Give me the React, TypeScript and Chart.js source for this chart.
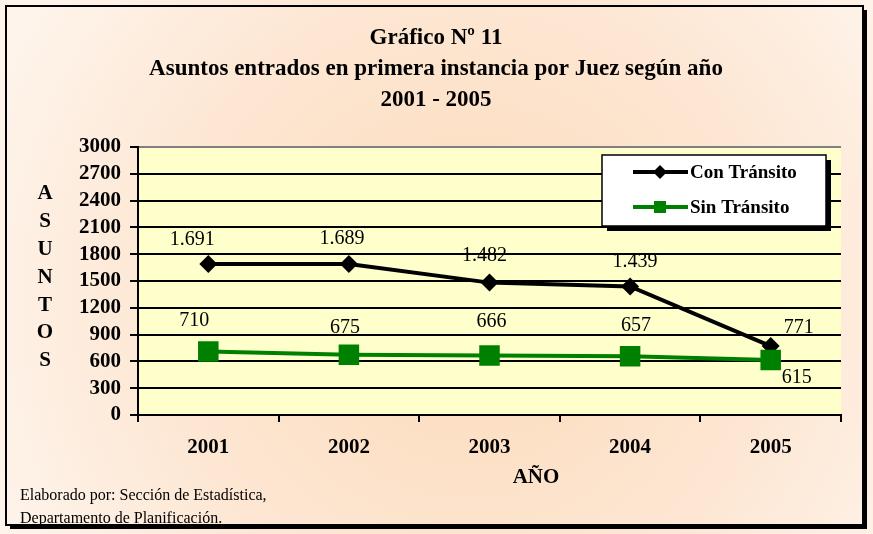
import React, { useEffect, useRef } from "react";
import { Chart, registerables } from "chart.js";

Chart.register(...registerables);

const categories = ["2001", "2002", "2003", "2004", "2005"];
const conTransito = [1691, 1689, 1482, 1439, 771];
const sinTransito = [710, 675, 666, 657, 615];
const seriesNames = ["Con Tránsito", "Sin Tránsito"];
const titleLines = ["Gráfico Nº 11", "Asuntos entrados en primera instancia por Juez según año", "2001 - 2005"];
const yTitleLetters = ["A", "S", "U", "N", "T", "O", "S"];
const xTitle = "AÑO";
const footerLines = ["Elaborado por: Sección de Estadística,", "Departamento de Planificación."];
const yMin = 0;
const yMax = 3000;
const yStep = 300;

const FONT = "'Liberation Serif', 'Times New Roman', serif";

function fmt(n: number): string {
  if (n >= 1000) return `${Math.floor(n / 1000)}.${String(n % 1000).padStart(3, "0")}`;
  return String(n);
}

const decorPlugin = {
  id: "decor",
  beforeDraw(chart: any) {
    const { ctx, width, height, chartArea } = chart;
    ctx.save();
    const g = ctx.createRadialGradient(470, 300, 20, 470, 300, 520);
    g.addColorStop(0, "#FCDCBC");
    g.addColorStop(0.55, "#FDE6D2");
    g.addColorStop(1, "#FEF4EB");
    ctx.fillStyle = g;
    ctx.fillRect(0, 0, width, height);
    ctx.fillStyle = "#000";
    ctx.fillRect(862, 10, 5, 519);
    ctx.fillRect(10, 524, 857, 5);
    ctx.strokeStyle = "#000";
    ctx.lineWidth = 2;
    ctx.strokeRect(6, 6, 857, 519);
    ctx.fillStyle = "#FFFFCC";
    ctx.fillRect(chartArea.left, chartArea.top, chartArea.right - chartArea.left, chartArea.bottom - chartArea.top);
    ctx.restore();
  },
  afterDatasetsDraw(chart: any) {
    const { ctx } = chart;
    ctx.save();
    ctx.font = `20px ${FONT}`;
    ctx.fillStyle = "#000";
    ctx.textAlign = "center";
    ctx.textBaseline = "middle";
    chart.data.datasets.forEach((ds: any, di: number) => {
      const meta = chart.getDatasetMeta(di);
      const place = ds.labelOffsets;
      meta.data.forEach((pt: any, i: number) => {
        const off = place[i];
        ctx.fillText(fmt(ds.data[i]), pt.x + off[0], pt.y + off[1]);
      });
    });
    ctx.restore();
  },
  afterDraw(chart: any) {
    const { ctx } = chart;
    ctx.save();
    ctx.fillStyle = "#000";
    ctx.textBaseline = "middle";
    ctx.textAlign = "center";
    ctx.font = `bold 23px ${FONT}`;
    titleLines.forEach((t, i) => ctx.fillText(t, 436, 38 + i * 31));
    ctx.font = `bold 21px ${FONT}`;
    yTitleLetters.forEach((l, i) => ctx.fillText(l, 45, 194 + i * 27.8));
    ctx.font = `bold 21px ${FONT}`;
    ctx.fillText(xTitle, 536, 478);
    ctx.textAlign = "left";
    ctx.font = `16px ${FONT}`;
    footerLines.forEach((t, i) => ctx.fillText(t, 20, 496 + i * 23));
    // legend
    const lx = 602, ly = 155, lw = 224, lh = 71;
    ctx.fillStyle = "#000";
    ctx.fillRect(lx + 5, ly + 5, lw, lh);
    ctx.fillStyle = "#FFFFFF";
    ctx.fillRect(lx, ly, lw, lh);
    ctx.strokeStyle = "#000";
    ctx.lineWidth = 1.5;
    ctx.strokeRect(lx, ly, lw, lh);
    chart.data.datasets.forEach((ds: any, di: number) => {
      const yy = 172 + di * 35;
      ctx.strokeStyle = ds.borderColor;
      ctx.lineWidth = 4;
      ctx.beginPath();
      ctx.moveTo(633, yy);
      ctx.lineTo(688, yy);
      ctx.stroke();
      ctx.fillStyle = ds.borderColor;
      if (ds.pointStyle === "rectRot") {
        ctx.beginPath();
        ctx.moveTo(660, yy - 7);
        ctx.lineTo(667, yy);
        ctx.lineTo(660, yy + 7);
        ctx.lineTo(653, yy);
        ctx.closePath();
        ctx.fill();
      } else {
        ctx.fillRect(654, yy - 6, 12, 12);
      }
      ctx.fillStyle = "#000";
      ctx.font = `bold 19px ${FONT}`;
      ctx.textAlign = "left";
      ctx.fillText(seriesNames[di], 690, yy + 1);
    });
    ctx.restore();
  },
};

export default function App() {
  const ref = useRef<HTMLCanvasElement>(null);
  useEffect(() => {
    document.body.style.margin = "0";
    const canvas = ref.current!;
    const chart = new Chart(canvas, {
      type: "line",
      data: {
        labels: categories,
        datasets: [
          {
            label: seriesNames[0],
            data: conTransito,
            borderColor: "#000000",
            backgroundColor: "#000000",
            borderWidth: 4,
            pointStyle: "rectRot",
            pointRadius: 9,
            pointBorderWidth: 0,
            tension: 0,
            order: 1,
            labelOffsets: [[-16, -24], [-7, -25], [-5, -27], [5, -25], [28, -18]],
          } as any,
          {
            label: seriesNames[1],
            data: sinTransito,
            borderColor: "#008000",
            backgroundColor: "#008000",
            borderWidth: 4,
            pointStyle: "rect",
            pointRadius: 14.5,
            pointBorderWidth: 0,
            tension: 0,
            order: 0,
            labelOffsets: [[-14, -31], [-4, -27], [2, -34], [6, -31], [26, 18]],
          } as any,
        ],
      },
      options: {
        responsive: false,
        animation: false,
        layout: { padding: { left: 0, top: 147, right: 32, bottom: 0 } },
        plugins: { legend: { display: false }, title: { display: false }, tooltip: { enabled: false } },
        scales: {
          x: {
            offset: true,
            border: { color: "#000", width: 2 },
            grid: { display: true, drawOnChartArea: false, color: "#000", lineWidth: 2, tickLength: 7, offset: true },
            ticks: { color: "#000", font: { family: FONT, size: 21, weight: "bold" }, padding: 13, autoSkip: false, maxRotation: 0 },
            afterFit(scale: any) {
              scale.height = 119;
            },
          },
          y: {
            min: yMin,
            max: yMax,
            border: { color: "#000", width: 2 },
            grid: {
              color: (c: any) => (c.tick && c.tick.value === yMax ? "#808080" : "#000"),
              tickColor: "#000",
              lineWidth: 2,
              tickLength: 8,
            },
            ticks: {
              stepSize: yStep,
              autoSkip: false,
              color: "#000",
              font: { family: FONT, size: 21, weight: "bold" },
              padding: 9,
              callback: (v: any) => String(v),
            },
            afterFit(scale: any) {
              scale.width = 138;
            },
          },
        },
      },
      plugins: [decorPlugin],
    });
    return () => chart.destroy();
  }, []);
  return <canvas ref={ref} width={873} height={534} style={{ display: "block" }} />;
}
